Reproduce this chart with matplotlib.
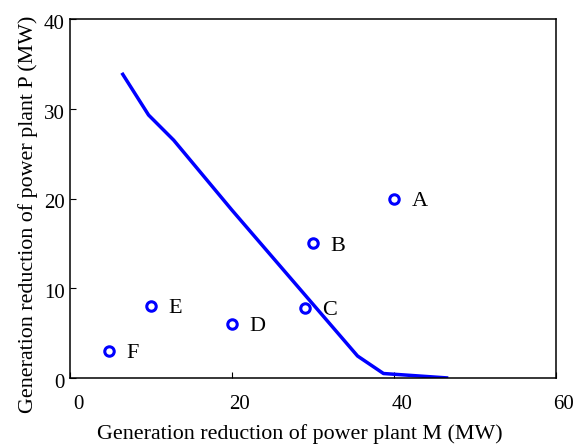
import matplotlib
matplotlib.use("Agg")
import matplotlib.pyplot as plt
from matplotlib.transforms import ScaledTranslation

# Boundary curve (M reduction vs P reduction)
curve_m = [6.4, 9.7, 12.8, 20.0, 35.5, 38.7, 46.7]
curve_p = [34.0, 29.3, 26.5, 18.7, 2.45, 0.5, 0.0]

# Operating points
point_names = ["A", "B", "C", "D", "E", "F"]
point_m = [40, 30, 29, 20, 10, 4.8]
point_p = [20, 15, 7.8, 6, 8, 3]

x_ticks = [0, 20, 40, 60]
y_ticks = [0, 10, 20, 30, 40]

plt.rcParams["font.family"] = ["Liberation Serif", "DejaVu Serif"]

fig = plt.figure(figsize=(5.78, 4.46), dpi=100)
ax = fig.add_axes([70 / 578, 1 - 378 / 446, (556 - 70) / 578, (378 - 19) / 446])

ax.plot(curve_m, curve_p, color="#0000ff", lw=2.5, solid_capstyle="butt")
ax.plot(point_m, point_p, "o", ms=6.8, mfc="none", mec="#0000ff", mew=2.2)
for name, m, p in zip(point_names, point_m, point_p):
    ax.annotate(name, (m, p), xytext=(12.5, -2), textcoords="offset points",
                fontsize=16, ha="left", va="center")

ax.set_xlim(0, 60)
ax.set_ylim(0, 40)
ax.set_xticks(x_ticks)
ax.set_yticks(y_ticks)
ax.tick_params(direction="in", length=4, width=0.8, labelsize=15,
               top=False, right=False)
ax.tick_params(axis="x", pad=12.5)
ax.tick_params(axis="y", pad=4)
for sp in ax.spines.values():
    sp.set_linewidth(1.1)

dx = ScaledTranslation(8 / 100, 0, fig.dpi_scale_trans)
for lbl in ax.get_xticklabels():
    lbl.set_transform(lbl.get_transform() + dx)
dy = ScaledTranslation(0, -3 / 100, fig.dpi_scale_trans)
for lbl in ax.get_yticklabels():
    lbl.set_transform(lbl.get_transform() + dy)

ax.set_xlabel("Generation reduction of power plant M (MW)", fontsize=15.8, labelpad=7)
ax.set_ylabel("Generation reduction of power plant P (MW)", fontsize=15.8, labelpad=4)
ax.xaxis.label.set_x(0.473)
ax.yaxis.label.set_y(0.455)

fig.savefig("out.png", dpi=100)
